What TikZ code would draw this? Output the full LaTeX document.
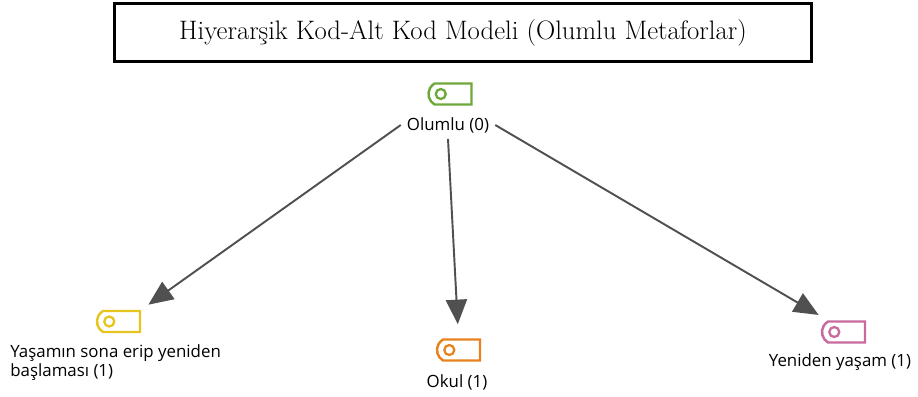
\documentclass[tikz,border=0pt]{standalone}
\usepackage{fontspec}
\usepackage{tikz}
\usetikzlibrary{arrows.meta,shapes.misc}
\newfontfamily\labelfont{Open Sans}
\definecolor{tagGreen}{HTML}{6DA83A}
\definecolor{tagYellow}{HTML}{E6C61E}
\definecolor{tagOrange}{HTML}{E8821E}
\definecolor{tagPink}{HTML}{C86A9E}
\definecolor{arrowGray}{HTML}{505050}

\begin{document}
\begin{tikzpicture}[x=0.02cm, y=-0.02cm,
    font=\labelfont\fontsize{9.6}{11}\selectfont,
    codetag/.style={draw=#1, line width=1.4pt, shape=rounded rectangle,
      rounded rectangle right arc=none, rounded rectangle arc length=120,
      minimum width=0.86cm, minimum height=0.42cm, inner sep=0pt,
      path picture={\draw[#1, line width=1.3pt] ([xshift=0.28cm]path picture bounding box.west) circle (0.1cm);}},
    link/.style={draw=arrowGray, line width=1.1pt, -{Triangle[length=14pt,width=12pt]}}]
    \useasboundingbox (0,0) rectangle (918,396);

    \node (title) [draw, line width=1.3pt, minimum width=13.94cm, minimum height=1.16cm,
      font=\rmfamily\fontsize{15.2}{18}\selectfont] at (463,32.5) {Hiyerarşik Kod-Alt Kod Modeli (Olumlu Metaforlar)};

    \node (olumlu) at (448,125) {Olumlu (0)};
    \node (olumluTag) [codetag=tagGreen] at (450,94) {};
    \node (yasam) [align=left, anchor=west, inner sep=0pt] at (10,362.5) {Yaşamın sona erip yeniden\\başlaması (1)};
    \node (yasamTag) [codetag=tagYellow] at (118.5,321.5) {};
    \node (okul) at (457,382) {Okul (1)};
    \node (okulTag) [codetag=tagOrange] at (458.5,350) {};
    \node (yeniden) at (840,362) {Yeniden yaşam (1)};
    \node (yenidenTag) [codetag=tagPink] at (843.5,332) {};

    \draw[link, shorten >=5pt] (olumlu.west) -- (yasamTag.north east);
    \draw[link, shorten >=8pt] (olumlu.south) -- (okulTag.north);
    \draw[link, shorten >=6pt] (olumlu.east) -- (yenidenTag.north west);
\end{tikzpicture}
\end{document}
